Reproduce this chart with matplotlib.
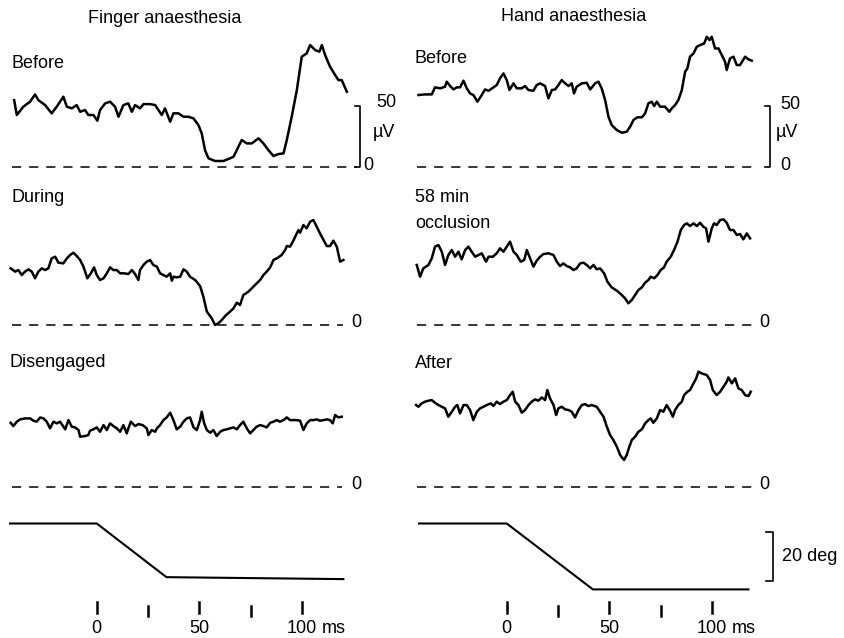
import matplotlib
matplotlib.use("Agg")
import matplotlib.pyplot as plt
import numpy as np

W, H = 845, 638
PX_PER_MS = 2.05
PX_PER_UV = 1.213
PX_PER_DEG = 2.45
XLIM = (-47.2, 157.7)
UV_LIM = (-20, 110)
DEG_LIM = (-48, 10)

plt.rcParams["font.family"] = ["Liberation Sans", "DejaVu Sans"]
plt.rcParams["font.size"] = 13

# EMG traces: (time ms, amplitude uV)
finger_before = [
    (-40.3, 54.9), (-39.0, 42.6), (-35.8, 49.5), (-32.5, 53.6), (-30.1, 59.6), (-28.5, 54.9),
    (-25.2, 50.8), (-22.0, 44.0), (-19.5, 49.5), (-16.3, 57.7), (-14.6, 49.5), (-12.2, 48.1),
    (-9.8, 50.8), (-8.1, 45.3), (-5.7, 46.7), (-4.1, 42.6), (-1.6, 42.6), (0.3, 37.9),
    (1.6, 46.7), (4.1, 52.2), (6.5, 53.6), (8.9, 49.5), (10.6, 41.2), (13.0, 50.8),
    (15.4, 52.2), (17.1, 45.3), (18.7, 50.8), (21.1, 48.1), (22.8, 51.6), (26.0, 51.6),
    (28.5, 50.8), (30.1, 46.7), (31.7, 42.6), (33.3, 48.1), (35.8, 37.1), (37.4, 44.0),
    (39.8, 44.0), (42.3, 41.2), (44.7, 41.2), (47.2, 39.8), (49.6, 34.3), (51.2, 27.5),
    (52.8, 13.7), (54.5, 6.9), (57.7, 4.7), (61.8, 4.7), (65.0, 6.9), (66.7, 8.2),
    (68.3, 13.7), (70.7, 22.0), (73.2, 19.2), (75.6, 19.2), (78.9, 23.4), (81.3, 19.2),
    (83.7, 13.7), (86.2, 8.8), (88.6, 10.4), (91.1, 11.0), (92.7, 22.0), (95.1, 41.2),
    (97.6, 63.2), (100.0, 90.7), (102.4, 93.4), (104.1, 100.3), (106.5, 96.2), (108.6, 94.8),
    (109.8, 100.3), (111.4, 92.0), (113.8, 82.4), (116.3, 75.5), (117.9, 71.4), (119.5, 71.4),
    (122.0, 61.8),
]
finger_during = [
    (-42.0, 46.7), (-39.8, 44.0), (-38.2, 45.3), (-36.6, 41.2), (-35.0, 44.0), (-33.3, 45.9),
    (-31.7, 44.0), (-30.1, 38.5), (-28.5, 44.0), (-26.8, 46.7), (-25.2, 45.3), (-23.6, 46.7),
    (-22.0, 54.9), (-20.3, 56.3), (-18.7, 51.4), (-16.3, 50.8), (-14.6, 54.9), (-13.0, 57.7),
    (-11.4, 59.6), (-9.8, 56.9), (-8.1, 53.6), (-6.5, 48.1), (-4.6, 38.5), (-2.9, 42.6),
    (-1.3, 47.5), (0.0, 41.2), (1.6, 37.1), (3.3, 38.5), (4.9, 42.6), (6.5, 47.5),
    (8.1, 45.3), (9.8, 45.3), (11.4, 42.6), (13.3, 42.6), (15.4, 42.0), (17.1, 45.3),
    (18.7, 42.0), (20.3, 37.1), (21.1, 45.3), (22.8, 49.5), (24.4, 52.2), (26.0, 53.6),
    (27.6, 49.5), (29.3, 48.1), (30.9, 42.6), (32.5, 41.2), (34.1, 39.8), (35.8, 42.6),
    (36.6, 36.5), (37.4, 39.8), (39.0, 39.3), (40.7, 39.8), (42.3, 45.9), (43.9, 44.0),
    (45.5, 39.8), (48.0, 37.1), (50.4, 32.1), (52.0, 23.4), (53.7, 11.0), (56.1, 5.5),
    (57.7, 0.0), (59.3, 1.4), (61.0, 4.1), (62.6, 7.4), (65.0, 11.0), (66.7, 13.7),
    (68.3, 18.4), (69.9, 16.5), (71.5, 24.7), (74.0, 27.5), (76.4, 31.6), (78.0, 34.3),
    (79.7, 37.1), (81.3, 41.2), (82.9, 44.0), (84.6, 47.5), (86.2, 53.6), (87.8, 54.9),
    (90.2, 57.7), (91.9, 61.8), (92.7, 65.1), (94.3, 64.6), (95.9, 69.5), (97.2, 74.2),
    (98.4, 78.3), (99.2, 76.1), (100.8, 82.4), (102.4, 79.7), (104.1, 85.2), (105.7, 86.5),
    (107.3, 81.0), (108.9, 75.5), (110.6, 70.1), (112.2, 65.1), (113.8, 65.1), (115.4, 69.5),
    (117.1, 64.6), (118.7, 52.2), (120.3, 53.6),
]
finger_disengaged = [
    (-42.0, 52.7), (-40.7, 50.0), (-39.0, 53.6), (-37.4, 55.5), (-35.0, 56.3), (-32.5, 56.3),
    (-30.9, 54.4), (-29.3, 53.6), (-27.6, 57.1), (-26.0, 56.3), (-24.4, 53.6), (-22.8, 48.1),
    (-21.1, 53.6), (-19.5, 52.2), (-17.9, 53.6), (-15.4, 47.3), (-13.8, 54.9), (-12.2, 49.5),
    (-10.6, 48.9), (-8.9, 46.7), (-8.1, 41.2), (-5.7, 41.8), (-4.1, 42.6), (-3.3, 46.2),
    (-1.6, 47.3), (0.0, 48.9), (1.6, 45.3), (3.3, 50.8), (4.9, 46.7), (6.5, 52.2),
    (8.1, 50.0), (9.8, 48.1), (11.4, 45.3), (13.0, 50.8), (14.6, 44.0), (16.6, 53.6),
    (18.7, 50.0), (20.3, 51.6), (22.4, 50.8), (24.4, 48.1), (25.2, 42.6), (26.8, 46.7),
    (28.5, 45.3), (29.3, 48.1), (30.9, 50.8), (32.5, 54.9), (34.1, 57.1), (35.8, 61.0),
    (37.4, 54.9), (39.0, 47.3), (40.7, 49.5), (42.3, 53.6), (43.9, 56.3), (45.5, 57.1),
    (47.2, 48.9), (48.8, 46.7), (50.4, 54.9), (51.2, 61.8), (52.4, 52.2), (53.7, 46.7),
    (55.3, 44.5), (56.9, 46.7), (58.5, 41.8), (60.2, 45.3), (61.8, 46.7), (63.4, 47.3),
    (65.0, 48.1), (66.7, 48.9), (68.3, 47.3), (69.9, 50.8), (71.5, 53.6), (73.2, 48.1),
    (74.8, 44.0), (76.4, 46.7), (78.0, 49.5), (79.7, 50.8), (81.3, 50.0), (82.9, 48.9),
    (84.6, 52.7), (86.2, 53.6), (87.8, 54.9), (89.4, 53.6), (91.1, 54.9), (92.7, 57.1),
    (94.3, 54.9), (95.9, 54.9), (97.6, 54.9), (99.2, 54.4), (100.8, 46.7), (102.4, 52.2),
    (104.1, 54.9), (105.7, 54.9), (107.3, 55.5), (108.9, 54.4), (110.6, 54.9), (112.2, 55.5),
    (113.8, 54.9), (115.1, 52.2), (116.3, 59.1), (117.9, 57.1), (119.5, 57.7),
]
hand_before = [
    (-43.1, 59.1), (-39.8, 59.6), (-36.6, 59.6), (-35.0, 65.4), (-32.5, 64.6), (-30.1, 65.9),
    (-29.3, 70.1), (-27.6, 66.5), (-26.0, 63.7), (-24.4, 65.4), (-22.8, 65.4), (-21.1, 70.9),
    (-19.5, 64.6), (-17.9, 60.4), (-16.3, 59.1), (-14.3, 53.6), (-12.2, 59.1), (-10.6, 63.7),
    (-8.9, 62.6), (-6.5, 65.4), (-4.9, 67.3), (-3.3, 72.8), (-1.6, 76.9), (0.0, 71.4),
    (1.3, 63.2), (3.3, 68.7), (4.9, 64.6), (7.3, 64.6), (8.9, 66.5), (10.6, 63.2),
    (13.0, 62.6), (14.6, 67.3), (16.3, 68.7), (18.7, 66.5), (20.3, 56.3), (22.0, 63.2),
    (23.6, 63.7), (25.2, 67.3), (26.8, 71.4), (28.5, 68.7), (30.1, 66.5), (31.7, 68.7),
    (32.8, 60.4), (34.1, 65.9), (36.6, 68.7), (39.0, 69.2), (40.7, 63.7), (43.1, 68.7),
    (44.7, 70.1), (46.3, 64.6), (48.0, 54.9), (49.6, 41.2), (51.2, 34.3), (53.7, 30.2),
    (56.1, 28.0), (58.5, 28.8), (60.2, 33.0), (61.8, 38.5), (63.7, 40.7), (65.9, 40.7),
    (67.5, 44.0), (69.1, 52.2), (70.7, 53.6), (71.9, 50.0), (73.2, 53.6), (74.8, 49.5),
    (77.2, 49.5), (79.3, 45.3), (80.5, 48.1), (82.1, 50.8), (83.7, 54.9), (85.4, 63.2),
    (87.0, 78.3), (88.1, 81.0), (89.4, 90.7), (91.1, 93.4), (92.7, 98.9), (94.3, 100.3),
    (96.3, 101.6), (97.6, 107.1), (98.9, 104.4), (100.0, 107.1), (101.6, 97.5), (103.3, 97.5),
    (104.9, 92.0), (106.5, 86.5), (107.3, 79.7), (108.9, 89.3), (110.6, 90.7), (112.2, 83.8),
    (113.8, 83.8), (116.3, 90.7), (117.9, 88.5), (119.5, 87.4),
]
hand_occlusion = [
    (-43.9, 49.5), (-42.3, 39.8), (-40.7, 46.7), (-38.2, 49.5), (-36.6, 54.9), (-35.0, 64.6),
    (-33.3, 65.9), (-31.7, 60.4), (-30.1, 49.5), (-28.5, 57.7), (-26.8, 61.8), (-25.2, 56.3),
    (-23.6, 60.4), (-22.0, 54.1), (-20.3, 61.8), (-18.7, 64.6), (-17.1, 60.4), (-15.4, 56.3),
    (-13.8, 57.7), (-12.2, 59.1), (-10.1, 52.2), (-8.9, 56.3), (-6.8, 56.3), (-4.9, 59.1),
    (-3.3, 63.2), (-1.6, 60.4), (0.0, 64.6), (1.6, 68.7), (3.3, 60.4), (4.9, 57.7),
    (6.8, 52.2), (8.5, 53.6), (9.8, 61.8), (11.4, 54.9), (13.0, 48.1), (14.6, 53.0),
    (16.3, 56.3), (17.9, 58.5), (20.3, 59.1), (22.8, 57.7), (24.4, 52.2), (26.0, 48.6),
    (27.6, 50.8), (29.3, 48.6), (30.9, 47.5), (32.5, 45.3), (34.1, 46.7), (35.8, 50.8),
    (37.4, 51.4), (39.0, 49.5), (40.7, 46.7), (42.3, 49.5), (43.9, 45.9), (45.5, 46.7),
    (47.5, 42.6), (49.1, 35.7), (51.2, 31.0), (53.7, 28.3), (56.1, 24.7), (57.7, 22.0),
    (59.3, 17.9), (61.0, 20.6), (62.6, 24.7), (64.2, 28.8), (65.9, 31.0), (67.5, 34.9),
    (69.1, 37.1), (70.2, 39.8), (71.9, 38.5), (73.5, 41.2), (75.1, 45.3), (76.7, 47.5),
    (78.0, 52.2), (80.0, 56.3), (81.6, 61.8), (83.3, 68.7), (84.9, 78.3), (86.5, 82.4),
    (87.8, 83.8), (89.4, 81.6), (91.1, 83.8), (92.7, 81.6), (94.3, 84.3), (95.9, 81.0),
    (97.2, 79.7), (98.4, 68.7), (100.0, 79.7), (101.1, 83.8), (102.4, 82.4), (104.1, 86.5),
    (105.7, 87.1), (107.3, 84.3), (108.9, 78.3), (110.6, 78.3), (112.2, 74.2), (113.8, 75.0),
    (115.4, 70.6), (117.1, 75.5), (118.7, 71.4),
]
hand_after = [
    (-44.2, 67.3), (-43.1, 65.9), (-41.5, 68.7), (-39.8, 70.1), (-38.2, 70.9), (-36.6, 71.4),
    (-35.0, 69.2), (-33.3, 67.3), (-31.7, 65.9), (-30.1, 64.6), (-28.5, 57.7), (-26.8, 61.8),
    (-25.2, 65.9), (-24.1, 67.3), (-22.8, 60.4), (-21.1, 67.3), (-19.5, 67.3), (-17.9, 63.2),
    (-16.3, 54.9), (-14.6, 61.8), (-13.0, 64.6), (-11.4, 65.9), (-9.8, 67.3), (-7.8, 68.7),
    (-6.5, 66.5), (-4.9, 70.1), (-3.3, 68.1), (-1.6, 70.1), (0.0, 71.4), (1.6, 75.5),
    (2.9, 78.3), (4.1, 70.1), (5.7, 67.3), (7.3, 61.0), (8.9, 63.2), (10.6, 67.3),
    (12.2, 70.1), (13.8, 72.0), (15.4, 70.9), (17.1, 73.6), (18.7, 71.4), (19.8, 79.7),
    (21.1, 72.8), (22.8, 67.3), (24.1, 59.1), (25.2, 64.6), (26.8, 65.9), (28.5, 63.7),
    (30.1, 63.2), (31.7, 61.8), (33.3, 57.1), (35.0, 63.2), (36.6, 67.3), (38.2, 68.1),
    (39.8, 66.5), (41.5, 67.3), (43.9, 65.9), (45.5, 61.8), (47.2, 57.7), (48.8, 49.5),
    (50.4, 42.6), (52.0, 38.5), (53.7, 33.0), (55.3, 26.1), (57.2, 22.0), (58.5, 26.1),
    (59.8, 33.0), (61.0, 38.5), (62.6, 41.2), (64.2, 45.3), (65.9, 47.3), (67.5, 52.2),
    (69.1, 54.9), (70.2, 56.3), (71.5, 52.7), (73.2, 56.3), (74.8, 63.2), (76.4, 61.8),
    (78.0, 67.3), (79.7, 62.6), (81.0, 57.7), (82.1, 63.2), (83.7, 67.3), (85.4, 70.1),
    (86.5, 75.5), (88.1, 78.3), (89.4, 79.7), (91.1, 85.2), (92.4, 89.3), (93.5, 94.8),
    (95.1, 93.4), (97.6, 92.0), (99.2, 87.9), (100.5, 79.7), (102.4, 75.5), (104.1, 78.3),
    (105.7, 82.4), (107.3, 86.5), (108.1, 90.1), (109.8, 85.2), (111.4, 89.3), (113.0, 81.0),
    (114.6, 79.7), (116.3, 75.5), (117.9, 74.7), (119.0, 78.3),
]

# joint angle (deg) against time (ms)
finger_move_t = [-42.3, 0, 34, 120.3]
finger_move_deg = [0, 0, -21.9, -22.7]
hand_move_t = [-42.8, 0, 42, 117.9]
hand_move_deg = [0, 0, -26.9, -26.9]

tick_times = [0, 25, 50, 75, 100]
tick_labels = ["0", "", "50", "", "100"]

column_titles = ["Finger anaesthesia", "Hand anaesthesia"]
row_labels = [["Before", "During", "Disengaged"], ["Before", "58 min\nocclusion", "After"]]
baseline_spans = [[(-41.5, 126.8), (-41.5, 120.0), (-41.5, 119.5)],
                  [(-43.9, 120.3), (-43.9, 120.0), (-43.9, 120.0)]]

COL_LEFT_PX = [0, 410]
ROW_BASE_PX = [166.7, 325, 486.7]
MOVE_TOP_PX = 523.5


def add_axes(fig, left_px, top_px, xlim, ylim, px_x, px_y):
    w = (xlim[1] - xlim[0]) * px_x
    h = (ylim[1] - ylim[0]) * px_y
    ax = fig.add_axes([left_px / W, 1 - (top_px + h) / H, w / W, h / H])
    ax.set_xlim(xlim)
    ax.set_ylim(ylim)
    ax.axis("off")
    return ax


def ftext(fig, x_px, y_px, s, **kw):
    fig.text(x_px / W, 1 - y_px / H, s, **kw)


fig = plt.figure(figsize=(W / 100, H / 100), dpi=100)
fig.patch.set_facecolor("white")

traces = [[finger_before, finger_during, finger_disengaged],
          [hand_before, hand_occlusion, hand_after]]
dash = (0, (6, 5.2))

for c in range(2):
    for r in range(3):
        base = ROW_BASE_PX[r]
        ax = add_axes(fig, COL_LEFT_PX[c], base - UV_LIM[1] * PX_PER_UV,
                      XLIM, UV_LIM, PX_PER_MS, PX_PER_UV)
        data = np.array(traces[c][r])
        ax.plot(data[:, 0], data[:, 1], color="black", lw=1.8, solid_joinstyle="round")
        x0, x1 = baseline_spans[c][r]
        ax.plot([x0, x1], [0, 0], color="black", lw=1.1, ls=dash)
        if r == 0:
            bx = 128.4
            ax.plot([bx - 2.5, bx, bx, bx - 2.5], [50, 50, 0, 0], color="black", lw=1.2)
            tx = 136.5 if c == 0 else 133.3
            ax.text(tx, 53 if c == 0 else 51, "50", ha="left", va="center")
            ax.text(tx - 2, 27.8, "\u00b5V", ha="left", va="center")
            ax.text(tx - 6.5 if c == 0 else tx, 1.0, "0", ha="left", va="center")
        else:
            ax.text(124 if c == 0 else 123, 2.0, "0", ha="left", va="center")

# movement traces and time scale
moves = [(finger_move_t, finger_move_deg), (hand_move_t, hand_move_deg)]
for c in range(2):
    ax = add_axes(fig, COL_LEFT_PX[c], MOVE_TOP_PX - DEG_LIM[1] * PX_PER_DEG,
                  XLIM, DEG_LIM, PX_PER_MS, PX_PER_DEG)
    t, d = moves[c]
    ax.plot(t, d, color="black", lw=1.5)
    for tt, lab in zip(tick_times, tick_labels):
        if lab:
            ax.plot([tt, tt], [-31.9, -36.7], color="black", lw=1.8)
            ax.text(tt, -44.7, lab, ha="center", va="baseline")
        else:
            ax.plot([tt, tt], [-33.7, -37.8], color="black", lw=1.8)
    ax.text(110, -44.7, "ms", ha="left", va="baseline")
    if c == 1:
        bx = 130
        ax.plot([bx - 3.5, bx, bx, bx - 3.5], [-3.3, -3.3, -23.3, -23.3], color="black", lw=1.2)
        ax.text(134.1, -13.3, "20 deg", ha="left", va="center")

# titles and row labels
ftext(fig, 165, 22.7, column_titles[0], ha="center", va="baseline")
ftext(fig, 574, 20.7, column_titles[1], ha="center", va="baseline")
ftext(fig, 11.7, 68.3, row_labels[0][0], ha="left", va="baseline")
ftext(fig, 11.7, 201.7, row_labels[0][1], ha="left", va="baseline")
ftext(fig, 10, 366.7, row_labels[0][2], ha="left", va="baseline")
ftext(fig, 415, 63.3, row_labels[1][0], ha="left", va="baseline")
ftext(fig, 415, 201.7, "58 min", ha="left", va="baseline")
ftext(fig, 415, 228.3, "occlusion", ha="left", va="baseline")
ftext(fig, 415, 368.3, row_labels[1][2], ha="left", va="baseline")

fig.savefig("out.png", dpi=100)
